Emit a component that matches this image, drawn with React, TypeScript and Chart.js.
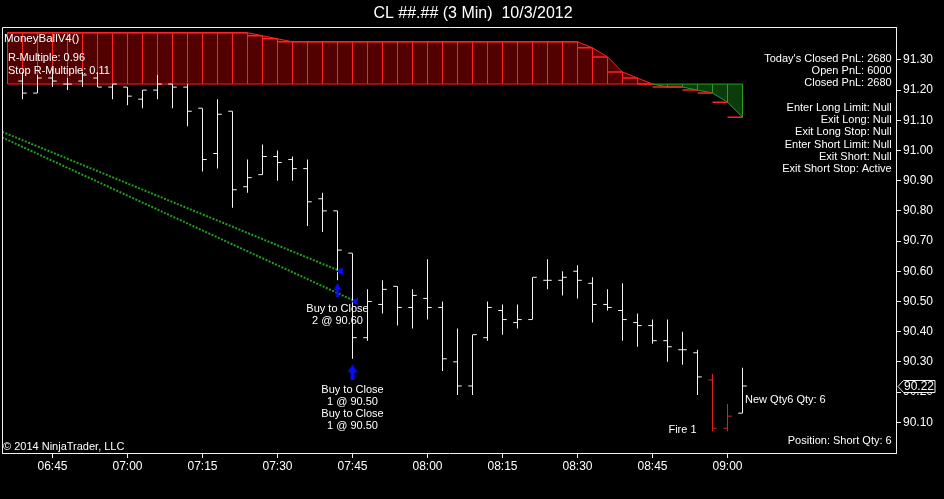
import React, { useEffect, useRef } from 'react';
import { Chart, registerables } from 'chart.js';

Chart.register(...registerables);

const chartTitle = 'CL ##.## (3 Min)  10/3/2012';

// 3-minute OHLC bars, bar index 0 = 06:39
const barOpen = [91.23, 91.19, 91.24, 91.22, 91.23, 91.24, 91.21, 91.21, 91.17, 91.20, 91.22, 91.21, 91.14, 90.99, 91.13, 90.88, 90.92, 90.98, 90.97, 90.94, 90.84, 90.80, 90.66, 90.38, 90.49, 90.55, 90.48, 90.51, 90.48, 90.30, 90.22, 90.38, 90.47, 90.43, 90.44, 90.57, 90.57, 90.60, 90.56, 90.49, 90.47, 90.43, 90.42, 90.37, 90.34, 90.33, 90.24, 90.08, 90.13];
const barHigh = [91.26, 91.25, 91.27, 91.24, 91.26, 91.26, 91.22, 91.21, 91.20, 91.25, 91.22, 91.22, 91.14, 91.17, 91.13, 90.97, 91.02, 91.00, 90.98, 90.97, 90.86, 90.80, 90.66, 90.54, 90.57, 90.55, 90.54, 90.64, 90.50, 90.41, 90.39, 90.50, 90.49, 90.49, 90.58, 90.64, 90.60, 90.62, 90.58, 90.54, 90.56, 90.46, 90.44, 90.44, 90.40, 90.34, 90.26, 90.16, 90.28];
const barLow = [91.17, 91.19, 91.21, 91.20, 91.21, 91.21, 91.17, 91.15, 91.14, 91.17, 91.14, 91.08, 90.93, 90.94, 90.81, 90.86, 90.92, 90.90, 90.90, 90.75, 90.73, 90.57, 90.31, 90.37, 90.46, 90.42, 90.41, 90.44, 90.27, 90.19, 90.19, 90.37, 90.39, 90.41, 90.44, 90.54, 90.52, 90.51, 90.43, 90.47, 90.37, 90.35, 90.36, 90.30, 90.29, 90.19, 90.07, 90.07, 90.13];
const barClose = [91.19, 91.24, 91.23, 91.22, 91.25, 91.21, 91.22, 91.18, 91.20, 91.22, 91.21, 91.13, 90.97, 91.12, 90.87, 90.91, 90.98, 90.96, 90.94, 90.83, 90.80, 90.67, 90.38, 90.50, 90.54, 90.48, 90.52, 90.48, 90.31, 90.22, 90.39, 90.48, 90.44, 90.44, 90.58, 90.57, 90.58, 90.57, 90.49, 90.48, 90.44, 90.42, 90.37, 90.35, 90.34, 90.25, 90.08, 90.12, 90.22];
const redBarIndex = [46, 47];

const xTickIndex = [2, 7, 12, 17, 22, 27, 32, 37, 42, 47];
const xTickLabels = ['06:45', '07:00', '07:15', '07:30', '07:45', '08:00', '08:15', '08:30', '08:45', '09:00'];
const yTickValues = [90.1, 90.2, 90.3, 90.4, 90.5, 90.6, 90.7, 90.8, 90.9, 91.0, 91.1, 91.2, 91.3];

// MoneyBall trailing stop cloud, first value at bar index -1
const cloudFirstIndex = -1;
const cloudStop = [
  91.39, 91.39, 91.39, 91.39, 91.39, 91.39, 91.39, 91.39, 91.39, 91.39,
  91.39, 91.39, 91.39, 91.39, 91.39, 91.39, 91.39, 91.38, 91.37, 91.36,
  91.36, 91.36, 91.36, 91.36, 91.36, 91.36, 91.36, 91.36, 91.36, 91.36,
  91.36, 91.36, 91.36, 91.36, 91.36, 91.36, 91.36, 91.36, 91.36, 91.34,
  91.31, 91.26, 91.24, 91.22, 91.21, 91.21, 91.20, 91.19, 91.16, 91.11,
];
const cloudBase = 91.22;

// executions
const fillMarkerIndex = [21.2, 22.2];
const fillMarkerPrice = [90.6, 90.5];
const execStartIndex = [-2, -2];
const execStartPrice = [91.075, 91.058];
const buyArrowIndex = [21, 22];
const buyArrowPrice = [90.538, 90.265];

const indicatorName = 'MoneyBallV4()';
const indicatorLines = ['R-Multiple: 0.96', 'Stop R-Multiple: 0.11'];
const pnlLines = ["Today's Closed PnL: 2680", 'Open PnL: 6000', 'Closed PnL: 2680'];
const orderLines = ['Enter Long Limit: Null', 'Exit Long: Null', 'Exit Long Stop: Null', 'Enter Short Limit: Null', 'Exit Short: Null', 'Exit Short Stop: Active'];
const positionText = 'Position: Short Qty: 6';
const copyrightText = '\u00a9 2014 NinjaTrader, LLC';
const annotations = [
  { lines: ['Buy to Close', '2 @ 90.60'], index: 21, price: 90.474, align: 'center' },
  { lines: ['Buy to Close', '1 @ 90.50', 'Buy to Close', '1 @ 90.50'], index: 22, price: 90.206, align: 'center' },
  { lines: ['Fire 1'], index: 44, price: 90.074, align: 'center' },
  { lines: ['New Qty6 Qty: 6'], index: 48.17, price: 90.174, align: 'left' },
];

const FONT = "Arial, 'Liberation Sans', sans-serif";
const TEXT = '#ffffff';
const FRAME = '#f0f0f0';
const WHITE_BAR = '#f4f4f4';
const RED_BAR = '#e02020';
const RED_LINE = '#ff2222';
const RED_FILL = '#520000';
const GREEN_LINE = '#22a022';
const GREEN_FILL = '#0c3c0c';
const GREEN_DOT = '#20a020';
const BLUE = '#0a0aff';
const X_MIN = -1.3667;
const X_MAX = 58.2333;
const Y_MIN = 89.998;
const Y_MAX = 91.409;
const TICK_OFF = 0.15;

function makeUpArrow(w: number, h: number, color: string) {
  const c = document.createElement('canvas');
  c.width = w;
  c.height = h;
  const g = c.getContext('2d')!;
  g.fillStyle = color;
  const head = Math.round(h * 0.5);
  const shaft = Math.max(3, Math.round(w * 0.4));
  g.beginPath();
  g.moveTo(w / 2, 0);
  g.lineTo(w, head);
  g.lineTo((w + shaft) / 2, head);
  g.lineTo((w + shaft) / 2, h);
  g.lineTo((w - shaft) / 2, h);
  g.lineTo((w - shaft) / 2, head);
  g.lineTo(0, head);
  g.closePath();
  g.fill();
  return c;
}

const overlayPlugin = {
  id: 'overlay',
  afterDraw(chart: any) {
    const { ctx, chartArea: a, scales } = chart;
    const xs = scales.x;
    const ys = scales.y;
    ctx.save();
    ctx.strokeStyle = FRAME;
    ctx.lineWidth = 1;
    ctx.beginPath();
    ctx.moveTo(Math.round(a.left) + 0.5, a.bottom);
    ctx.lineTo(Math.round(a.left) + 0.5, Math.round(a.top) + 0.5);
    ctx.lineTo(a.right, Math.round(a.top) + 0.5);
    ctx.stroke();

    ctx.fillStyle = TEXT;
    ctx.textBaseline = 'middle';
    ctx.textAlign = 'left';
    ctx.font = `11.5px ${FONT}`;
    ctx.fillText(indicatorName, a.left + 2, a.top + 11.5);
    ctx.font = `11px ${FONT}`;
    indicatorLines.forEach((t, k) => ctx.fillText(t, a.left + 6, a.top + 31.3 + k * 12.7));

    ctx.textAlign = 'right';
    pnlLines.forEach((t, k) => ctx.fillText(t, a.right - 4.3, a.top + 32 + k * 12.15));
    orderLines.forEach((t, k) => ctx.fillText(t, a.right - 4.3, a.top + 80.7 + k * 12.3));
    ctx.fillText(positionText, a.right - 4.3, a.bottom - 12.3);
    ctx.textAlign = 'left';
    ctx.fillText(copyrightText, a.left + 1, a.bottom - 6.3);

    annotations.forEach((an) => {
      const px = xs.getPixelForValue(an.index);
      const py = ys.getPixelForValue(an.price);
      ctx.textAlign = an.align;
      an.lines.forEach((t, k) => ctx.fillText(t, px, py + k * 12));
    });

    // last price marker on the axis
    const lp = barClose[barClose.length - 1];
    const my = Math.round(ys.getPixelForValue(lp)) + 0.5;
    const ax = a.right + 1.5;
    ctx.beginPath();
    ctx.moveTo(ax + 0.5, my);
    ctx.lineTo(ax + 6, my - 6);
    ctx.lineTo(ax + 37.5, my - 6);
    ctx.lineTo(ax + 37.5, my + 6);
    ctx.lineTo(ax + 6, my + 6);
    ctx.closePath();
    ctx.fillStyle = '#000000';
    ctx.fill();
    ctx.strokeStyle = FRAME;
    ctx.stroke();
    ctx.fillStyle = TEXT;
    ctx.font = `12px ${FONT}`;
    ctx.textAlign = 'left';
    ctx.fillText(lp.toFixed(2), ax + 6.5, my + 0.5);
    ctx.restore();
  },
};

export default function App() {
  const ref = useRef<HTMLCanvasElement>(null);

  useEffect(() => {
    document.body.style.margin = '0';
    document.body.style.background = '#000';
    const idx = barOpen.map((_, i) => i);
    const barColor = idx.map((i) => (redBarIndex.includes(i) ? RED_BAR : WHITE_BAR));
    const cloudX = cloudStop.map((_, k) => cloudFirstIndex + k);
    const stopDashes: any[] = [];
    cloudStop.forEach((v, k) => {
      const xi = cloudX[k];
      if (xi < 0) return;
      stopDashes.push({ x: xi - 1, y: v }, { x: xi, y: v }, { x: xi, y: null });
    });
    const arrows = [makeUpArrow(8, 14, BLUE), makeUpArrow(10, 16, BLUE)];

    const execSets = execStartIndex.map((sx, k) => ({
      type: 'line',
      data: [
        { x: sx, y: execStartPrice[k] },
        { x: fillMarkerIndex[k], y: fillMarkerPrice[k] },
      ],
      borderColor: GREEN_DOT,
      borderWidth: 2,
      borderDash: [2, 1.5],
      pointRadius: 0,
      fill: false,
      order: 15,
    }));

    const chart = new Chart(ref.current!, {
      type: 'line',
      data: {
        datasets: [
          {
            type: 'line',
            data: cloudStop.map((v, k) => ({ x: cloudX[k], y: v })),
            borderWidth: 1,
            pointRadius: 0,
            fill: { target: { value: cloudBase }, above: RED_FILL, below: GREEN_FILL },
            segment: {
              borderColor: (c: any) =>
                c.p0.parsed.y >= cloudBase && c.p1.parsed.y >= cloudBase ? RED_LINE : GREEN_LINE,
            },
            order: 20,
          },
          {
            type: 'line',
            data: cloudX.map((x) => ({ x, y: cloudBase })),
            borderWidth: 1,
            pointRadius: 0,
            fill: false,
            segment: {
              borderColor: (c: any) => (cloudStop[c.p1DataIndex] < cloudBase ? GREEN_LINE : RED_LINE),
            },
            order: 19,
          },
          {
            type: 'bar',
            data: cloudStop.map((v, k) => ({ x: cloudX[k], y: [cloudBase, v] })),
            backgroundColor: cloudStop.map((v) => (v >= cloudBase ? RED_LINE : GREEN_LINE)),
            barThickness: 1,
            grouped: false,
            inflateAmount: 0,
            order: 18,
          },
          {
            type: 'line',
            data: stopDashes,
            borderColor: RED_LINE,
            borderWidth: 1.5,
            pointRadius: 0,
            fill: false,
            spanGaps: false,
            order: 17,
          },
          ...execSets,
          {
            type: 'bar',
            data: barHigh.map((h, i) => ({ x: i, y: [barLow[i], h] })),
            backgroundColor: barColor,
            barThickness: 1,
            grouped: false,
            inflateAmount: 0,
            order: 5,
          },
          {
            type: 'line',
            data: barOpen.map((v, i) => ({ x: i - TICK_OFF, y: v })),
            showLine: false,
            pointStyle: 'line',
            pointRadius: 2,
            pointBorderColor: barColor,
            pointBorderWidth: 1,
            order: 4,
          },
          {
            type: 'line',
            data: barClose.map((v, i) => ({ x: i + TICK_OFF, y: v })),
            showLine: false,
            pointStyle: 'line',
            pointRadius: 2,
            pointBorderColor: barColor,
            pointBorderWidth: 1,
            order: 4,
          },
          {
            type: 'line',
            data: fillMarkerIndex.map((x, k) => ({ x, y: fillMarkerPrice[k] })),
            showLine: false,
            pointStyle: 'triangle',
            pointRotation: -90,
            pointRadius: 4.5,
            pointBackgroundColor: BLUE,
            pointBorderColor: BLUE,
            pointBorderWidth: 0,
            order: 3,
          },
          {
            type: 'line',
            data: buyArrowIndex.map((x, k) => ({ x, y: buyArrowPrice[k] })),
            showLine: false,
            pointStyle: arrows,
            pointRadius: 6,
            order: 3,
          },
        ] as any,
      },
      options: {
        responsive: false,
        devicePixelRatio: 1,
        animation: false,
        events: [],
        layout: { autoPadding: false, padding: { left: 2, right: 0, top: 0, bottom: 0 } },
        elements: { line: { tension: 0 } },
        plugins: {
          legend: { display: false },
          tooltip: { enabled: false },
          title: {
            display: true,
            text: chartTitle,
            color: TEXT,
            font: { family: FONT, size: 16, weight: 'normal', lineHeight: 1.2 },
            padding: { top: 4, bottom: 3.8 },
          },
        },
        scales: {
          x: {
            type: 'linear',
            min: X_MIN,
            max: X_MAX,
            offset: false,
            afterBuildTicks: (s: any) => {
              s.ticks = xTickIndex.map((v) => ({ value: v }));
            },
            afterFit: (s: any) => {
              s.height = 46;
              s.paddingLeft = 0;
              s.paddingRight = 0;
            },
            ticks: {
              autoSkip: false,
              maxRotation: 0,
              color: TEXT,
              font: { family: FONT, size: 12 },
              padding: 1,
              callback: (_v: any, k: number) => xTickLabels[k],
            },
            grid: { drawOnChartArea: false, drawTicks: true, tickLength: 5, color: FRAME, offset: false },
            border: { display: true, color: FRAME, width: 1 },
          },
          y: {
            type: 'linear',
            position: 'right',
            min: Y_MIN,
            max: Y_MAX,
            afterBuildTicks: (s: any) => {
              s.ticks = yTickValues.map((v) => ({ value: v }));
            },
            afterFit: (s: any) => {
              s.width = 48;
              s.paddingTop = 0;
              s.paddingBottom = 0;
            },
            ticks: {
              color: TEXT,
              font: { family: FONT, size: 12 },
              padding: 2,
              callback: (v: any) => Number(v).toFixed(2),
            },
            grid: { drawOnChartArea: false, drawTicks: true, tickLength: 5, color: FRAME },
            border: { display: true, color: FRAME, width: 1 },
          },
        },
      } as any,
      plugins: [overlayPlugin],
    });
    return () => chart.destroy();
  }, []);

  return (
    <div style={{ position: 'fixed', left: 0, top: 0, width: 944, height: 499, background: '#000' }}>
      <canvas ref={ref} width={944} height={499} style={{ display: 'block', width: 944, height: 499 }} />
    </div>
  );
}
